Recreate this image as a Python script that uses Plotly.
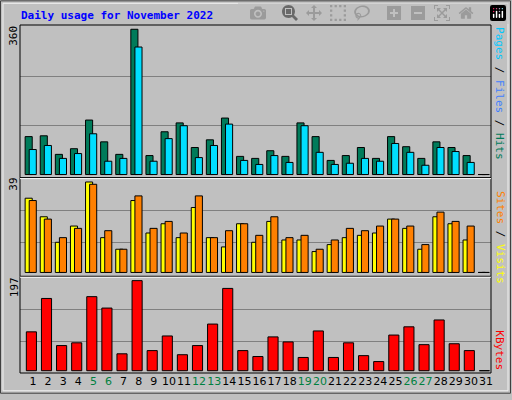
import plotly.graph_objects as go

days = list(range(1, 32))
hits = [94, 96, 50, 64, 135, 81, 50, 360, 47, 106, 128, 67, 86, 140, 45, 40, 59, 45, 128, 94, 35, 47, 67, 40, 94, 69, 40, 81, 67, 47, 0]
files = [62, 72, 40, 52, 101, 33, 40, 316, 33, 89, 121, 42, 72, 125, 35, 25, 47, 30, 121, 55, 25, 28, 40, 33, 77, 55, 23, 67, 57, 30, 0]
visits = [32, 24, 13, 20, 39, 15, 10, 31, 17, 21, 15, 28, 15, 11, 21, 13, 22, 14, 14, 9, 12, 15, 16, 17, 23, 19, 10, 24, 21, 14, 0]
sites = [31, 23, 15, 19, 38, 18, 10, 33, 19, 22, 17, 33, 15, 18, 21, 16, 24, 15, 16, 10, 14, 19, 18, 20, 23, 20, 12, 26, 22, 20, 0]
kbytes = [85, 158, 55, 61, 162, 137, 37, 197, 44, 76, 35, 55, 102, 180, 44, 31, 74, 63, 29, 87, 29, 61, 33, 20, 78, 96, 57, 111, 59, 44, 0]
weekend = {5, 6, 12, 13, 19, 20, 26, 27}
tick_text = [f'<span style="color:#008040">{d}</span>' if d in weekend else str(d) for d in days]

W, H = 512, 400
L, R, T, B = 20, 21, 25, 22
PW, PH = W - L - R, H - T - B
def px(x): return (x - L) / PW
def py(y): return (H - B - y) / PH

fig = go.Figure()
def bar(y, color, offset, width, yaxis):
    fig.add_trace(go.Bar(x=days, y=y, marker=dict(color=color, line=dict(color="black", width=1)),
                         offset=offset, width=width, yaxis=yaxis, hoverinfo="skip"))
bar(hits, "#007b5a", -0.52, 0.47, "y")
bar(files, "#00deff", -0.25, 0.47, "y")
bar(visits, "#ffff00", -0.52, 0.47, "y2")
bar(sites, "#ff8000", -0.25, 0.47, "y2")
bar(kbytes, "#ff0000", -0.44, 0.67, "y3")

grid = dict(showgrid=True, gridcolor="#808080", gridwidth=1, showticklabels=False, zeroline=False, ticks="", fixedrange=True)
fig.update_layout(
    width=W, height=H, margin=dict(l=L, r=R, t=T, b=B),
    paper_bgcolor="#c0c0c0", plot_bgcolor="#c0c0c0", showlegend=False, barmode="overlay",
    font=dict(family="DejaVu Sans Mono", size=11, color="black"),
    xaxis=dict(range=[0.14, 31.33], tickmode="array", tickvals=days, ticktext=tick_text, anchor="y3",
               tickangle=0, showgrid=False, zeroline=False, ticks="", ticklen=0,
               tickfont=dict(size=11, family="DejaVu Sans")),
    yaxis=dict(domain=[py(180), 1], range=[-8.1, 370.6], tickvals=[122, 244], **grid),
    yaxis2=dict(domain=[py(280), py(180)], range=[-1.7, 40.8], tickvals=[12.7, 26.7], **grid),
    yaxis3=dict(domain=[0, py(280)], range=[-5, 206.3], tickvals=[63, 134], **grid),
)
for y0, y1 in [(25, 180), (180, 280), (280, 378)]:
    fig.add_shape(type="rect", xref="paper", yref="paper", x0=px(20), x1=px(491), y0=py(y1), y1=py(y0),
                  line=dict(color="black", width=1))
fig.add_shape(type="line", xref="paper", yref="paper", x0=px(20), x1=px(491), y0=py(180.8), y1=py(180.8), line=dict(color="white", width=1))
fig.add_shape(type="line", xref="paper", yref="paper", x0=px(20), x1=px(491), y0=py(280.8), y1=py(280.8), line=dict(color="white", width=1))
fig.add_shape(type="rect", xref="paper", yref="paper", x0=px(0.5), x1=px(510.5), y0=py(398.5), y1=py(0.5),
              line=dict(color="#404040", width=1))
fig.add_shape(type="rect", xref="paper", yref="paper", x0=px(3), x1=px(508), y0=py(396), y1=py(3),
              line=dict(color="#f0f0f0", width=1))

def ann(text, x, y, angle=0, color="black", size=11, bold=False, xanchor="center", yanchor="middle"):
    fig.add_annotation(text=f"<b>{text}</b>" if bold else text, x=px(x), y=py(y), xref="paper", yref="paper",
                       showarrow=False, textangle=angle, font=dict(color=color, size=size, family="DejaVu Sans Mono"),
                       xanchor=xanchor, yanchor=yanchor)

ann("Daily usage for November 2022", 19, 15, color="#0000ff", bold=True, xanchor="left")
ann("360", 14, 36, angle=-90)
ann("39", 14, 187, angle=-90)
ann("197", 14, 291, angle=-90)
ann('<span style="color:#00c8ff">Pages</span> / <span style="color:#4080ff">Files</span> / <span style="color:#007b5a">Hits</span>',
    500, 94, angle=90)
ann('<span style="color:#ff8000">Sites</span> / <span style="color:#ffff00">Visits</span>', 500, 240, angle=90)
ann('<span style="color:#ff0000">KBytes</span>', 500, 355, angle=90)

fig.write_html("out.html", post_script="document.body.style.margin='0';document.body.style.overflow='hidden';")
